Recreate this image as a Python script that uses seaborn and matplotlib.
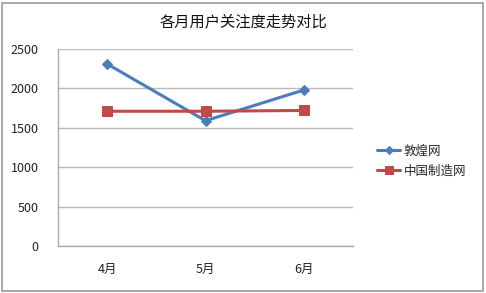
import matplotlib
matplotlib.use("Agg")
import matplotlib.pyplot as plt
import seaborn as sns
import pandas as pd
from matplotlib.patches import Rectangle

months = ["4月", "5月", "6月"]
dunhuang = [2310, 1590, 1980]
made_in_china = [1710, 1710, 1720]
series_names = ["敦煌网", "中国制造网"]
title = "各月用户关注度走势对比"
yticks = [0, 500, 1000, 1500, 2000, 2500]

sns.set_theme(style="white")
plt.rcParams['font.family'] = ['Noto Sans CJK SC', 'DejaVu Sans']

df = pd.DataFrame({
    "month": months * 2,
    "value": dunhuang + made_in_china,
    "series": [series_names[0]] * 3 + [series_names[1]] * 3,
})
df["x"] = [0, 1, 2] * 2

fig = plt.figure(figsize=(4.86, 2.93), dpi=100)
ax = fig.add_axes([58 / 486, 1 - 246 / 293, (353 - 58) / 486, (246 - 49) / 293])

colors = ["#4A7EBB", "#BE4B48"]
markers = ["D", "s"]
sizes = [5, 7]
for name, c, m, s in zip(series_names, colors, markers, sizes):
    sub = df[df["series"] == name]
    sns.lineplot(data=sub, x="x", y="value", ax=ax, color=c, marker=m,
                 markersize=s, linewidth=2.2, markeredgecolor=c, label=name)

ax.set_xlim(-0.5, 2.5)
ax.set_ylim(0, 2500)
ax.set_yticks(yticks)
ax.set_yticklabels([str(v) for v in yticks], fontsize=9, color="#222222")
ax.set_xticks([0, 1, 2])
ax.set_xticklabels(months, fontsize=9, color="#222222")
ax.tick_params(axis="y", pad=14, length=0)
ax.tick_params(axis="x", pad=12, length=0)
ax.set_xlabel("")
ax.set_ylabel("")
ax.grid(axis="y", color="#BBBBBB", linewidth=1)
ax.set_axisbelow(True)
for side in ["top", "right"]:
    ax.spines[side].set_visible(False)
for side in ["left", "bottom"]:
    ax.spines[side].set_color("#AAAAAA")
    ax.spines[side].set_linewidth(1)

leg = ax.legend(loc="center left", bbox_to_anchor=(366 / 486, 1 - 161 / 293),
                bbox_transform=fig.transFigure, frameon=False, fontsize=9,
                handlelength=1.8, handletextpad=0.3, labelspacing=0.6,
                markerscale=0.75)
for h in leg.legend_handles:
    h.set_linewidth(2.2)

fig.text(0.5, 1 - 22 / 293, title, ha="center", va="center", fontsize=11,
         color="#111111", fontweight="medium")

fig.patches.append(Rectangle((2 / 486, 2 / 293), 481 / 486, 288 / 293,
                             transform=fig.transFigure, fill=False,
                             edgecolor="#999999", linewidth=1.2))

fig.savefig("out.png", dpi=100)
